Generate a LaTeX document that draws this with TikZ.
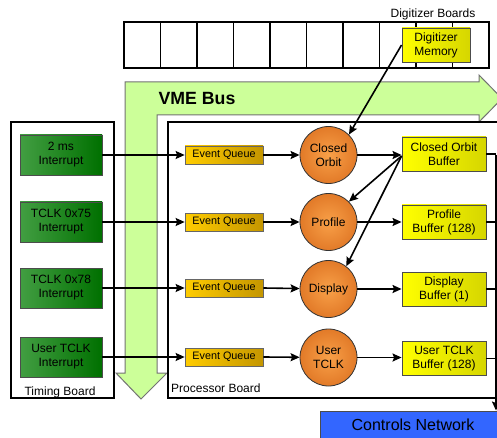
\documentclass[tikz,border=0pt]{standalone}
\usepackage{fontspec}
\setmainfont{Liberation Sans}
\usetikzlibrary{arrows.meta,calc}

\definecolor{busgreen}{RGB}{204,255,153}
\definecolor{irqlight}{RGB}{66,158,66}
\definecolor{irqdark}{RGB}{0,112,0}
\definecolor{qlight}{RGB}{255,204,0}
\definecolor{qdark}{RGB}{196,150,0}
\definecolor{buflight}{RGB}{255,255,0}
\definecolor{bufdark}{RGB}{214,214,0}
\definecolor{taskin}{RGB}{248,160,72}
\definecolor{taskout}{RGB}{226,122,40}
\definecolor{netblue}{RGB}{51,102,255}

\tikzset{
  lbl/.style={font=\fontsize{12}{14}\selectfont, align=center, text=black},
  irq/.style={lbl, draw=black!70, line width=0.9pt, left color=irqlight,
    right color=irqdark, minimum width=82pt, minimum height=40pt, inner sep=0pt},
  queue/.style={draw=black!60, line width=0.7pt, left color=qlight, right color=qdark,
    minimum width=78pt, minimum height=18pt, inner sep=0pt,
    font=\fontsize{10.8}{12}\selectfont},
  task/.style={lbl, circle, draw=black!80, line width=0.8pt, inner color=taskin,
    outer color=taskout, minimum size=57pt, inner sep=0pt},
  buf/.style={lbl, draw=black!70, line width=0.9pt, left color=buflight,
    right color=bufdark, minimum width=84pt, minimum height=34pt, inner sep=0pt},
  flow/.style={-{Stealth[length=9pt,width=8pt,inset=1.5pt]}, line width=1.6pt},
  board/.style={draw=black, line width=1.3pt},
}

\begin{document}
\begin{tikzpicture}[x=1pt,y=-1pt]
\path[use as bounding box, clip] (0,0) rectangle (497,438);
\fill[white] (0,0) rectangle (497,438);

% digitizer boards row
\foreach \i in {0,...,9}
  \draw[board] (124+36.5*\i,22) rectangle ++(36.5,46);
\node[lbl] (digi) at (433,14) {Digitizer Boards};

% VME bus: L-shaped double arrow
\draw[fill=busgreen, draw=black!55, line width=1pt]
  (125,82) -- (479,82) -- (479,75) -- (502,98.5) -- (479,122) -- (479,115)
  -- (157,115) -- (157,373) -- (167,373) -- (141,399) -- (116,373) -- (125,373) -- cycle;
\node[font=\bfseries\fontsize{17.7}{20}\selectfont] (vme) at (197,98) {VME Bus};

% boards
\draw[board] (11,122) rectangle (114,398);
\node[lbl, anchor=base, inner sep=0pt] (timing) at (60,395) {Timing Board};
\draw[board] (168,122) rectangle (510,398);
\node[lbl, anchor=base west, inner sep=0pt] (proc) at (171,392) {Processor Board};

% digitizer memory
\node[buf, minimum width=68pt] (mem) at (436,45) {Digitizer\\Memory};

% interrupts
\node[irq] (i1) at (61,155) {2 ms\\Interrupt};
\node[irq] (i2) at (61,222) {TCLK 0x75\\Interrupt};
\node[irq] (i3) at (61,288) {TCLK 0x78\\Interrupt};
\node[irq] (i4) at (61,357) {User TCLK\\Interrupt};

% event queues
\node[queue] (q1) at (224,155) {Event Queue};
\node[queue] (q2) at (224,222) {Event Queue};
\node[queue] (q3) at (224,288) {Event Queue};
\node[queue] (q4) at (224,357) {Event Queue};

% tasks
\node[task] (t1) at (328.5,155) {Closed\\Orbit};
\node[task] (t2) at (328.5,222) {Profile};
\node[task] (t3) at (328.5,289) {Display};
\node[task] (t4) at (328.5,357.5) {User\\TCLK};

% buffers
\node[buf] (b1) at (444,154) {Closed Orbit\\Buffer};
\node[buf] (b2) at (444,222) {Profile\\Buffer (128)};
\node[buf] (b3) at (444,289) {Display\\Buffer (1)};
\node[buf] (b4) at (444,358.5) {User TCLK\\Buffer (128)};

% controls network
\node[draw=black!70, line width=0.9pt, fill=netblue, minimum width=186pt, minimum height=27pt,
  font=\fontsize{16}{18}\selectfont, text=black] (net) at (413,424.5) {Controls Network};

% connectors
\foreach \k in {1,2,3,4} {
  \draw[flow] (i\k.east) -- (q\k.west |- i\k.east);
  \draw[flow] (q\k.east) -- (t\k);
  \draw[flow] (t\k) -- (b\k.west |- t\k);
}
\draw[flow] (mem.west) -- (t1.45);
\draw[flow] ($(b1.west)+(0,2)$) -- (t2.45);
\draw[flow] ($(b1.west)+(0,2)$) -- (t3.52);

% output bus to the network
\coordinate (bus) at (496,155);
\foreach \k in {1,2,3,4}
  \draw[line width=1.6pt] (b\k.east) -- (b\k.east -| bus);
\draw[flow] (bus) -- (bus |- net.north);
\end{tikzpicture}
\end{document}
